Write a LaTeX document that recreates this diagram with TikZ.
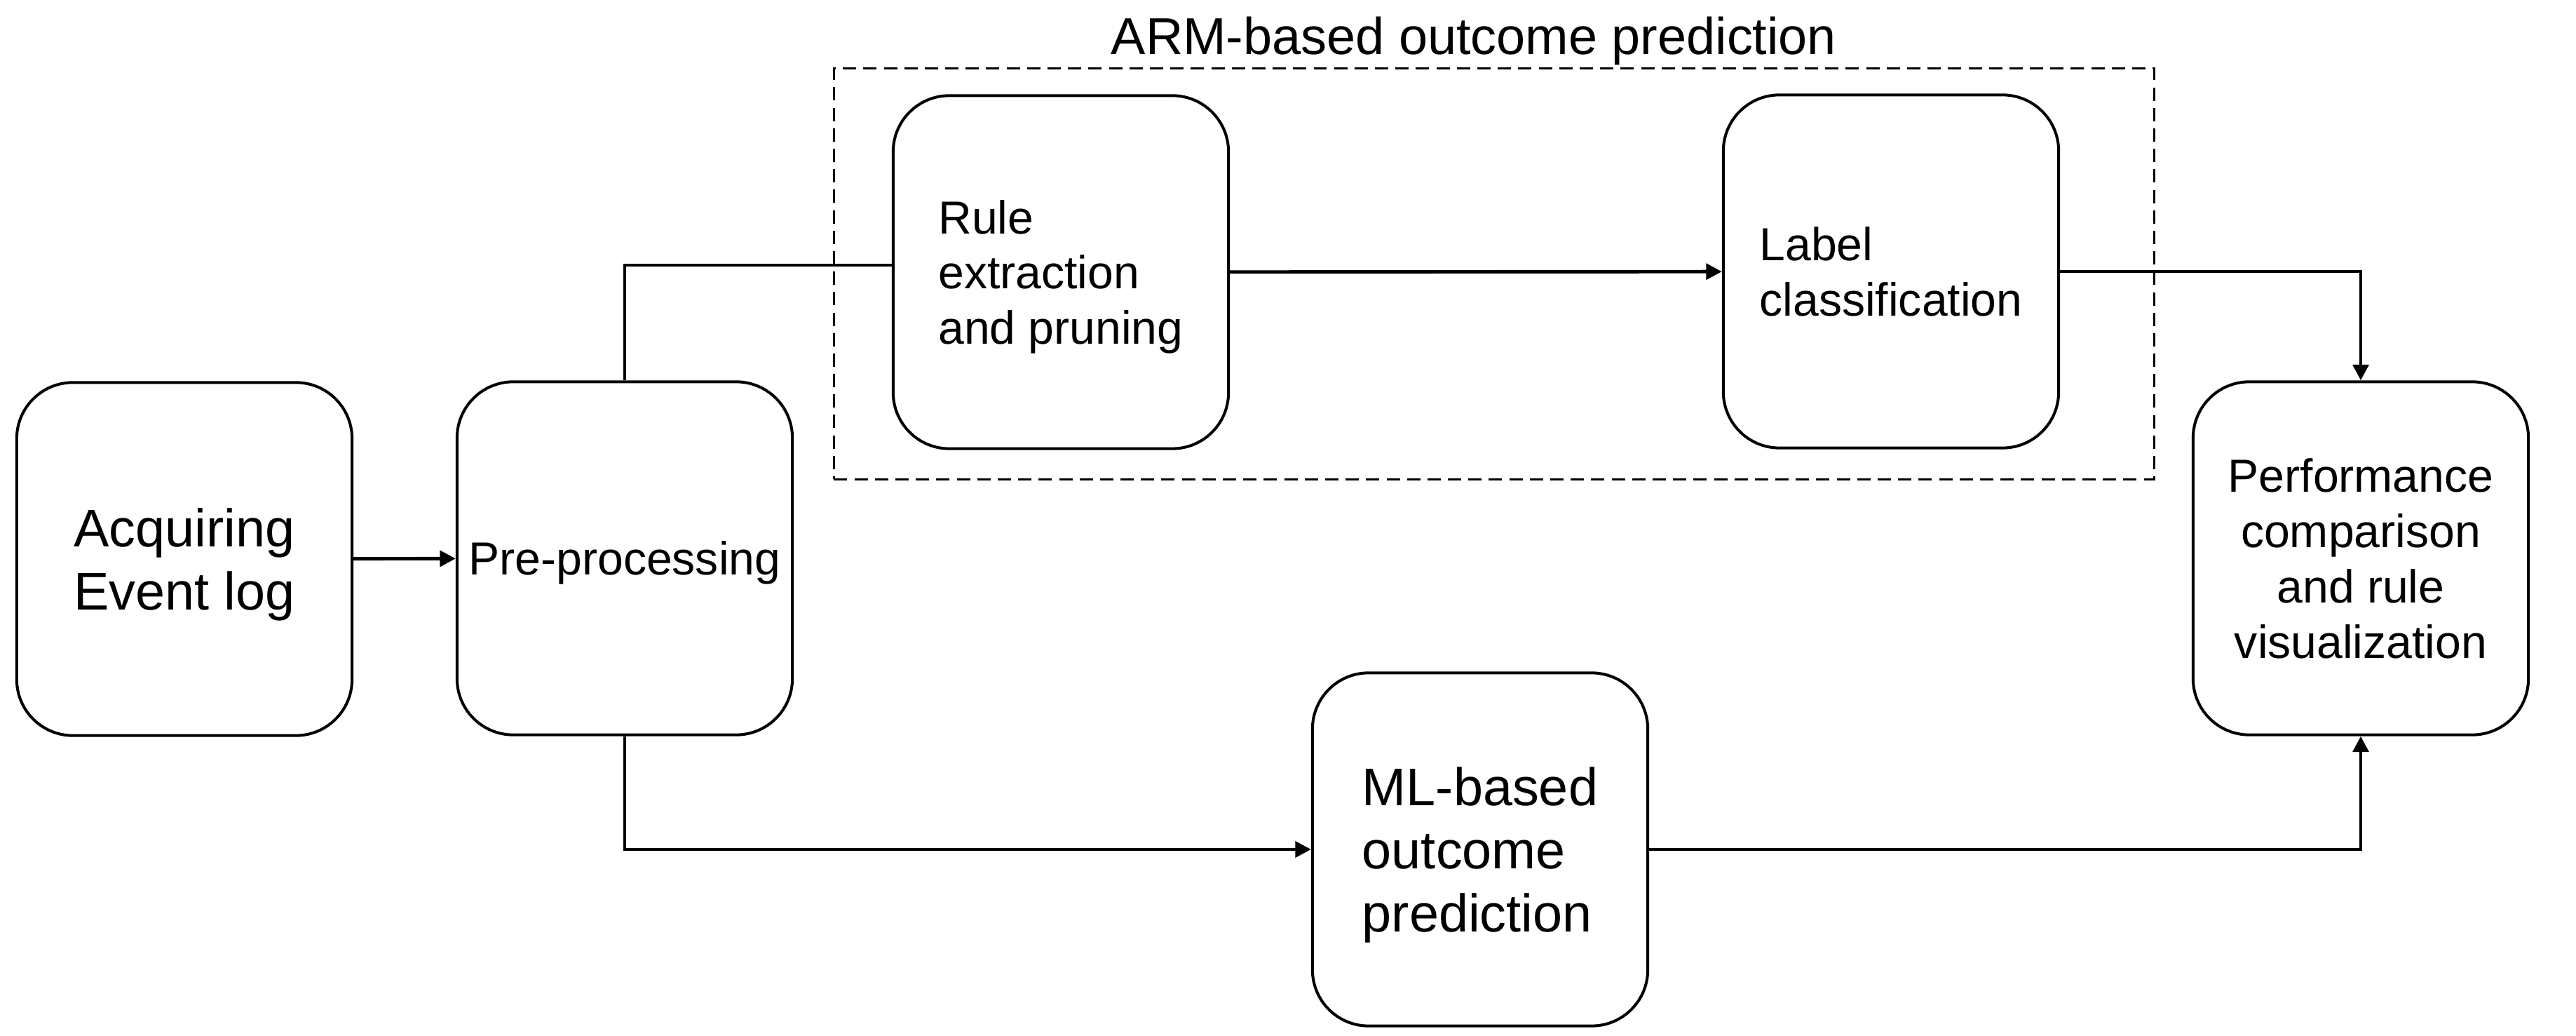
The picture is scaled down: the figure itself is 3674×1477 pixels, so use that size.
\documentclass[tikz,border=0pt]{standalone}
\usepackage{fontspec}
\setmainfont{Liberation Sans}
\usetikzlibrary{arrows.meta}
\begin{document}
\begin{tikzpicture}[x=0.01cm,y=-0.01cm,
  box/.style={draw, line width=1.15pt, rounded corners=0.8cm, minimum width=4.78cm, minimum height=5.03cm, inner sep=0pt, text depth=0pt},
  conn/.style={line width=1.4pt, -{Triangle[length=6.4pt,width=6.4pt]}},
  plain/.style={line width=1.4pt},
  big/.style={font=\fontsize{21.5}{25.7}\selectfont, align=left},
  small/.style={font=\fontsize{18.8}{22.4}\selectfont, align=left},
  group/.style={draw, line width=0.8pt, dash pattern=on 5.4pt off 2.9pt, minimum width=18.82cm, minimum height=5.85cm, inner sep=0pt}]
\useasboundingbox (0,0) rectangle (3674,1477);
\node[group] (arm) at (2131,390.5) {};
\node[anchor=base, font=\fontsize{21}{25}\selectfont] (armtitle) at (2102,78) {ARM-based outcome prediction};
\node[box, big] (acq) at (263,797) {Acquiring\\Event log};
\node[box, small] (pre) at (891,796) {Pre-processing};
\node[box, small] (rule) at (1513,388) {Rule\\extraction\\and pruning};
\node[box, small] (label) at (2697,387) {Label\\classification};
\node[box, small, align=center] (perf) at (3367,796) {Performance\\comparison\\and rule\\visualization};
\node[box, big] (ml) at (2111,1211) {ML-based\\outcome\\prediction};
\draw[conn] (acq) -- (pre);
\draw[plain] (pre.north) |- ([yshift=0.1cm]rule.west);
\draw[conn] (rule) -- (label);
\draw[conn] (label.east) -| (perf.north);
\draw[conn] (pre.south) |- (ml.west);
\draw[conn] (ml.east) -| (perf.south);
\end{tikzpicture}
\end{document}
